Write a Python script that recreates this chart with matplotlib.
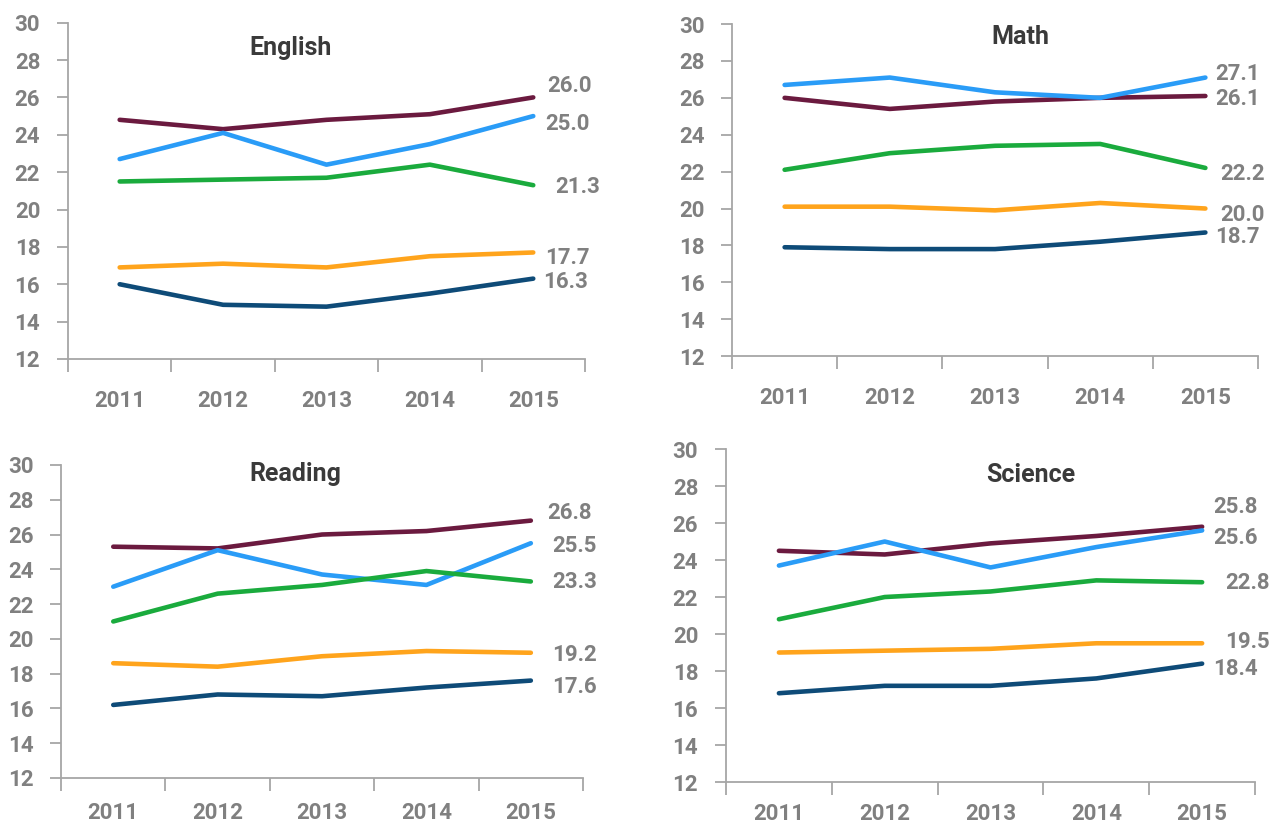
import matplotlib
matplotlib.use('Agg')
import matplotlib.pyplot as plt
import numpy as np

plt.rcParams['font.family'] = ['Roboto', 'DejaVu Sans']
plt.rcParams['font.weight'] = 'bold'

years = ['2011', '2012', '2013', '2014', '2015']
series_names = ['maroon', 'blue', 'green', 'orange', 'navy']
COLORS = ['#6b1a3f', '#2a9cf7', '#1aab3d', '#ffa41c', '#0e4b78']

english = [
    [24.8, 24.3, 24.8, 25.1, 26.0],
    [22.7, 24.1, 22.4, 23.5, 25.0],
    [21.5, 21.6, 21.7, 22.4, 21.3],
    [16.9, 17.1, 16.9, 17.5, 17.7],
    [16.0, 14.9, 14.8, 15.5, 16.3],
]
math_ = [
    [26.0, 25.4, 25.8, 26.0, 26.1],
    [26.7, 27.1, 26.3, 26.0, 27.1],
    [22.1, 23.0, 23.4, 23.5, 22.2],
    [20.1, 20.1, 19.9, 20.3, 20.0],
    [17.9, 17.8, 17.8, 18.2, 18.7],
]
reading = [
    [25.3, 25.2, 26.0, 26.2, 26.8],
    [23.0, 25.1, 23.7, 23.1, 25.5],
    [21.0, 22.6, 23.1, 23.9, 23.3],
    [18.6, 18.4, 19.0, 19.3, 19.2],
    [16.2, 16.8, 16.7, 17.2, 17.6],
]
science = [
    [24.5, 24.3, 24.9, 25.3, 25.8],
    [23.7, 25.0, 23.6, 24.7, 25.6],
    [20.8, 22.0, 22.3, 22.9, 22.8],
    [19.0, 19.1, 19.2, 19.5, 19.5],
    [16.8, 17.2, 17.2, 17.6, 18.4],
]

# panel layout: title, data, axes rect, title position, x-label pad,
# end-label nudges (px)
panels = [
    ('English', english, [0.0531, 0.5675, 0.4039, 0.4052], (0.43, 0.925), 22,
     [(14, 11), (12, -8), (22, -2), (12, -6), (10, -3)]),
    ('Math', math_, [0.5719, 0.5710, 0.4109, 0.4000], (0.548, 0.96), 22,
     [(10, -3), (10, 4), (15, -6), (15, -6), (10, -5)]),
    ('Reading', reading, [0.0477, 0.0627, 0.4078, 0.3771], (0.448, 0.971), 17,
     [(16, 8), (21, -3), (21, -1), (21, -2), (21, -6)]),
    ('Science', science, [0.5672, 0.0578, 0.4133, 0.4012], (0.575, 0.922), 15,
     [(11, 20), (11, -8), (23, -1), (23, 1), (11, -5)]),
]

AXIS_GRAY = '#a6a6a6'
LABEL_GRAY = '#808080'

fig = plt.figure(figsize=(12.8, 8.3), dpi=100)
x = np.arange(len(years))

for title, data, rect, tpos, xpad, nudges in panels:
    ax = fig.add_axes(rect)
    for vals, color, (dx, dy) in zip(data, COLORS, nudges):
        ax.plot(x, vals, color=color, lw=3.3, solid_capstyle='round',
                solid_joinstyle='round')
        ax.annotate(f'{vals[-1]:.1f}', (x[-1], vals[-1]), xytext=(dx, dy),
                    textcoords='offset pixels', ha='left', va='center',
                    fontsize=16, color=LABEL_GRAY, fontweight='bold')

    ax.set_xlim(-0.5, 4.5)
    ax.set_ylim(12, 30)
    ax.set_yticks(np.arange(12, 31, 2))
    ax.set_xticks(x)
    ax.set_xticklabels(years)
    ax.set_xticks(np.arange(-0.5, 5, 1), minor=True)
    ax.tick_params(axis='x', which='major', length=0, pad=xpad,
                   labelsize=16, labelcolor=LABEL_GRAY)
    ax.tick_params(axis='x', which='minor', length=9, width=1.3,
                   color=AXIS_GRAY)
    ax.tick_params(axis='y', length=8, width=1.3, color=AXIS_GRAY, pad=12,
                   labelsize=16, labelcolor=LABEL_GRAY)
    for side in ('top', 'right'):
        ax.spines[side].set_visible(False)
    for side in ('left', 'bottom'):
        ax.spines[side].set_color(AXIS_GRAY)
        ax.spines[side].set_linewidth(1.3)
    ax.patch.set_alpha(0)
    ax.text(tpos[0], tpos[1], title, transform=ax.transAxes, ha='center',
            va='center', fontsize=18, fontweight='bold', color='#3a3a3a')

plt.savefig('out.png', dpi=100)
